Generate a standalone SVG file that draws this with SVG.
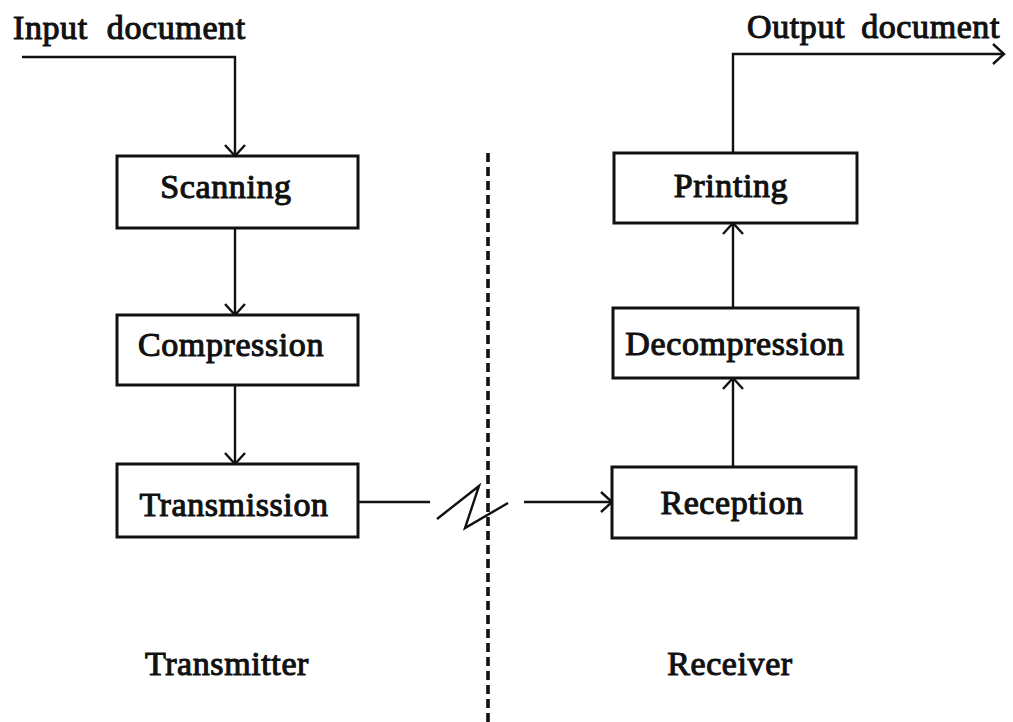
<svg xmlns="http://www.w3.org/2000/svg" width="1013" height="722" viewBox="0 0 1013 722">
  <defs>
    <!-- open V arrowhead -->
    <marker id="arrow" viewBox="0 0 14 24" refX="12" refY="12" markerWidth="14" markerHeight="24" markerUnits="userSpaceOnUse" orient="auto">
      <path d="M1,2 L12,12 L1,22" fill="none" stroke="#111" stroke-width="2.4"/>
    </marker>
  </defs>
  <style>
    .box { fill: #fff; stroke: #111; stroke-width: 3; }
    .lbl { font-family: "Liberation Serif", "Times New Roman", serif; font-size: 34px; fill: #111; stroke: #111; stroke-width: 1.1; letter-spacing: 0.6px; text-anchor: middle; }
    .edge { fill: none; stroke: #111; stroke-width: 2.4; }
    .divider { fill: none; stroke: #111; stroke-width: 3.6; stroke-dasharray: 9 5; }
  </style>
  <rect width="1013" height="722" fill="#fff"/>

  <!-- free-standing labels -->
  <text class="lbl" x="13" y="39" style="text-anchor:start; word-spacing:10px">Input document</text>
  <text class="lbl" x="747" y="38" style="text-anchor:start; word-spacing:7px">Output document</text>
  <text class="lbl" x="227" y="675">Transmitter</text>
  <text class="lbl" x="730" y="675">Receiver</text>

  <!-- channel divider -->
  <line class="divider" x1="488" y1="153" x2="488" y2="722"/>

  <!-- connectors -->
  <g id="connectors">
    <polyline class="edge" points="22,57 235,57 235,156" marker-end="url(#arrow)"/>
    <line class="edge" x1="235" y1="228" x2="235" y2="315" marker-end="url(#arrow)"/>
    <line class="edge" x1="235" y1="385" x2="235" y2="464" marker-end="url(#arrow)"/>
    <line class="edge" x1="358" y1="502" x2="430" y2="502"/>
    <polyline class="edge" points="437,519 479,486 465,528 508,503" stroke-width="3.6" stroke-linejoin="miter"/>
    <line class="edge" x1="524" y1="502" x2="612" y2="502" marker-end="url(#arrow)"/>
    <line class="edge" x1="733" y1="467" x2="733" y2="378" marker-end="url(#arrow)"/>
    <line class="edge" x1="733" y1="308" x2="733" y2="223" marker-end="url(#arrow)"/>
    <polyline class="edge" points="733,153 733,54 1004,54" marker-end="url(#arrow)"/>
  </g>

  <!-- transmitter side -->
  <g id="scanning">
    <rect class="box" x="117" y="156" width="241" height="72"/>
    <text class="lbl" x="226" y="198">Scanning</text>
  </g>
  <g id="compression">
    <rect class="box" x="117" y="315" width="241" height="70"/>
    <text class="lbl" x="231" y="356">Compression</text>
  </g>
  <g id="transmission">
    <rect class="box" x="117" y="464" width="241" height="73"/>
    <text class="lbl" x="234" y="516">Transmission</text>
  </g>

  <!-- receiver side -->
  <g id="printing">
    <rect class="box" x="614" y="153" width="243" height="70"/>
    <text class="lbl" x="731" y="197">Printing</text>
  </g>
  <g id="decompression">
    <rect class="box" x="613" y="308" width="245" height="70"/>
    <text class="lbl" x="735" y="355">Decompression</text>
  </g>
  <g id="reception">
    <rect class="box" x="612" y="467" width="244" height="71"/>
    <text class="lbl" x="732" y="514">Reception</text>
  </g>
</svg>
